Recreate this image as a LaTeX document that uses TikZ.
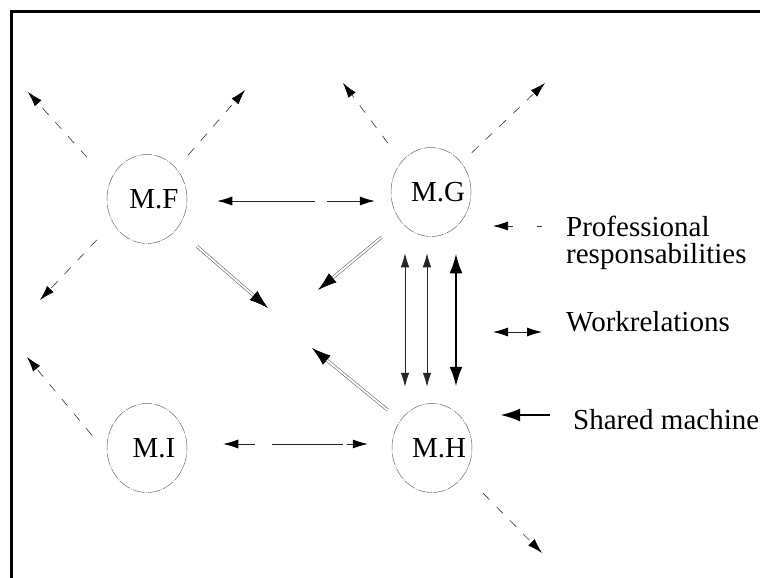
\documentclass[tikz,border=0pt]{standalone}
\usepackage{fontspec}
\setmainfont{Liberation Serif}
\usetikzlibrary{arrows.meta,shapes.geometric}
\newcommand\diagfont{\fontsize{29}{27}\selectfont}
\begin{document}
\begin{tikzpicture}[x=1pt,y=-1pt,
  machine/.style={ellipse, draw=black!60, line width=0.5pt,
    dash pattern=on 12pt off 1.2pt on 1pt off 1.2pt,
    minimum width=80pt, minimum height=89pt, inner sep=0pt, font=\diagfont},
  resp/.style={draw=black!80, line width=0.6pt, dash pattern=on 9pt off 10pt,
    -{Latex[length=15pt,width=9pt,black]}},
  work/.style={draw=black!85, line width=0.7pt,
    {Latex[length=15pt,width=9pt,black]}-{Latex[length=15pt,width=9pt,black]}},
  sharedlink/.style={draw=black, line width=2.8pt,
    {Latex[length=20pt,width=13pt]}-{Latex[length=20pt,width=13pt]}},
  handover/.style={draw=black!60, line width=0.6pt, double=white, double distance=1.8pt,
    -{Latex[length=19pt,width=12pt,black]}},
  legendtext/.style={font=\diagfont, inner sep=0pt, anchor=base west, align=left},
]
\useasboundingbox (0,0) rectangle (760,578);

% frame
\draw[line width=3pt] (760,12) -- (11,12) -- (11,578);

% machines
\node[machine] (F) at (147,199) {\hspace*{7pt}M.F\hspace*{-7pt}};
\node[machine] (G) at (431,192) {\hspace*{7pt}M.G\hspace*{-7pt}};
\node[machine] (I) at (147,448) {\hspace*{7pt}M.I\hspace*{-7pt}};
\node[machine] (H) at (432,448) {\hspace*{7pt}M.H\hspace*{-7pt}};

% free ends of the outgoing arrows
\coordinate (F-out1) at (28,92);
\coordinate (F-out2) at (245,90);
\coordinate (F-out3) at (40,300);
\coordinate (G-out1) at (343,83);
\coordinate (G-out2) at (545,83);
\coordinate (I-out1) at (27,357);
\coordinate (H-out1) at (542,553);
\coordinate (F-hand) at (268,308);
\coordinate (G-hand) at (318,290);
\coordinate (H-hand) at (312,348);

% professional responsabilities
\draw[resp, shorten <=34pt] (F.156) -- (F-out1);
\draw[resp, shorten <=18pt] (F.46) -- (F-out2);
\draw[resp, shorten <=23.5pt] (F.215) -- (F-out3);
\draw[resp, shorten <=23pt] (G.134) -- (G-out1);
\draw[resp, shorten <=14.5pt] (G.44) -- (G-out2);
\draw[resp, shorten <=24pt] (I.188) -- (I-out1);
\draw[resp, shorten <=26.5pt] (H.321) -- (H-out1);

% hand-over arrows
\draw[handover, shorten <=26.6pt] (F.315) -- (F-hand);
\draw[handover, shorten <=24.5pt] (G.224) -- (G-hand);
\draw[handover, shorten <=16.3pt] (H.139) -- (H-hand);

% work relations
\draw[work, dash pattern=on 83pt off 12pt on 100pt, shorten <=30pt, shorten >=16pt]
  ([yshift=-2pt]F.east) -- ([yshift=-9pt]G.west);
\draw[work, dash pattern=on 17pt off 17pt on 71pt off 4pt on 100pt, shorten <=36pt, shorten >=24pt]
  ([yshift=4pt]I.east) -- ([yshift=4pt]H.west);
\draw[work, line width=0.8pt, {Latex[length=14pt,width=8.5pt]}-{Latex[length=14pt,width=8.5pt]},
  shorten <=16.5pt, shorten >=16.5pt] ([xshift=-26pt]G.south) -- ([xshift=-27pt]H.north);
\draw[work, line width=0.8pt, {Latex[length=14pt,width=8.5pt]}-{Latex[length=14pt,width=8.5pt]},
  shorten <=16.5pt, shorten >=16.5pt] ([xshift=-4pt]G.south) -- ([xshift=-5pt]H.north);
\draw[sharedlink, shorten <=16.5pt, shorten >=16.5pt] ([xshift=25pt]G.south) -- ([xshift=24pt]H.north);

% legend
\coordinate (lp-a) at (542,226);
\coordinate (lp-b) at (493,226);
\coordinate (lw-a) at (493,332);
\coordinate (lw-b) at (542,332);
\coordinate (ls-a) at (550,415);
\coordinate (ls-b) at (500,415);
\draw[resp, dash pattern=on 5pt off 24pt on 40pt] (lp-a) -- (lp-b);
\draw[work, line width=0.8pt] (lw-a) -- (lw-b);
\draw[line width=2.8pt, -{Latex[length=20pt,width=13pt]}] (ls-a) -- (ls-b);

\node[legendtext] (prof) at (566,263) {Professional\\responsabilities};
\node[legendtext] (workrel) at (566,331) {Workrelations};
\node[legendtext] (shared) at (573,429) {Shared machine};
\end{tikzpicture}
\end{document}
